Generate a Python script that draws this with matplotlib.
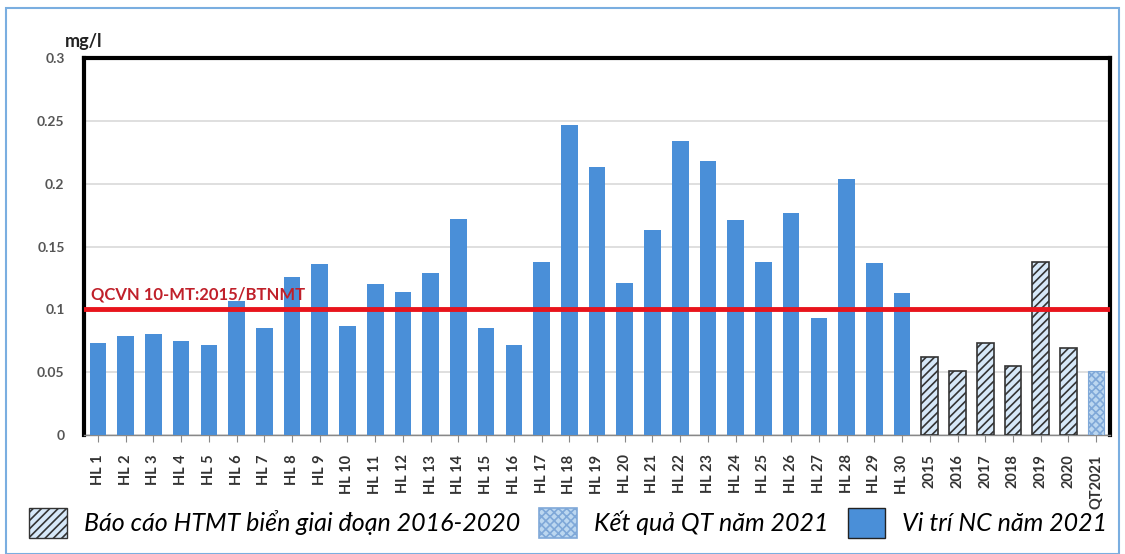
import matplotlib
matplotlib.use("Agg")
import matplotlib.pyplot as plt
from matplotlib.patches import Patch, Rectangle

plt.rcParams['font.family'] = ['Lato', 'DejaVu Sans']
plt.rcParams['hatch.linewidth'] = 1.2

# dữ liệu
vi_tri = ['HL %d' % i for i in range(1, 31)]
gia_tri_nc = [0.073, 0.079, 0.080, 0.075, 0.072, 0.107, 0.085, 0.126, 0.136, 0.087,
              0.120, 0.114, 0.129, 0.172, 0.085, 0.072, 0.138, 0.247, 0.213, 0.121,
              0.163, 0.234, 0.218, 0.171, 0.138, 0.177, 0.093, 0.204, 0.137, 0.113]
nam_bc = ['2015', '2016', '2017', '2018', '2019', '2020']
gia_tri_bc = [0.062, 0.051, 0.073, 0.055, 0.138, 0.069]
nhan_qt = ['QT2021']
gia_tri_qt = [0.051]
qcvn = 0.1

blue = '#4a8fd8'
light = '#d6e8f8'

fig = plt.figure(figsize=(11.25, 5.54), dpi=100)
ax = fig.add_axes([0.0747, 0.2148, 0.912, 0.6805])

n1 = len(vi_tri)
n2 = len(nam_bc)
x1 = list(range(n1))
x2 = list(range(n1, n1 + n2))
x3 = [n1 + n2]
w = 0.6

ax.bar(x1, gia_tri_nc, width=w, color=blue, zorder=3)
ax.bar(x2, gia_tri_bc, width=w, color=light, edgecolor='#333333', hatch='////', linewidth=1.2, zorder=3)
ax.bar(x3, gia_tri_qt, width=w, color='#bcd7f0', edgecolor='#7fa8d8', hatch='xxxx', linewidth=0.8, zorder=3)

ax.axhline(qcvn, color='#e8141c', lw=3.5, zorder=4)
ax.text(-0.25, qcvn + 0.008, 'QCVN 10-MT:2015/BTNMT', color='#c0202a', fontsize=12,
        fontweight='bold', zorder=5)

ax.set_xlim(-0.5, n1 + n2 + 0.5)
ax.set_ylim(0, 0.3)
ax.set_yticks([0, 0.05, 0.1, 0.15, 0.2, 0.25, 0.3])
ax.set_yticklabels(['0', '0.05', '0.1', '0.15', '0.2', '0.25', '0.3'])
ax.set_xticks(x1 + x2 + x3)
ax.set_xticklabels(vi_tri + nam_bc + nhan_qt, rotation=90)
ax.tick_params(axis='y', length=0, pad=14, labelsize=10, labelcolor='#555555')
ax.tick_params(axis='x', length=5, color='#888888', pad=9, labelsize=10.5, labelcolor='#333333')
for t in ax.get_xticklabels() + ax.get_yticklabels():
    t.set_fontweight('bold')
ax.grid(axis='y', color='#d9d9d9', lw=1.2, zorder=0)
for s in ['left', 'top', 'right']:
    ax.spines[s].set_linewidth(3)
    ax.spines[s].set_color('black')
ax.spines['bottom'].set_color('#888888')
ax.spines['bottom'].set_linewidth(1)

fig.text(0.058, 0.915, 'mg/l', fontsize=13, fontweight='bold', color='#222222')

handles = [Patch(facecolor=light, edgecolor='#333333', hatch='////', linewidth=1),
           Patch(facecolor='#bcd7f0', edgecolor='#7fa8d8', hatch='xxxx', linewidth=1.2),
           Patch(facecolor=blue, edgecolor='#222222', linewidth=1)]
labels = ['Báo cáo HTMT biển giai đoạn 2016-2020', 'Kết quả QT năm 2021', 'Vi trí NC năm 2021']
leg = fig.legend(handles, labels, loc='lower left', bbox_to_anchor=(0.006, -0.012), ncol=3,
                 frameon=False, handlelength=1.5, handleheight=1.5, columnspacing=0.75,
                 handletextpad=0.7, prop={'size': 18, 'style': 'italic'})

# khung viền ngoài
fig.patches.append(Rectangle((0.005, 0.0), 0.99, 0.985, transform=fig.transFigure,
                             fill=False, edgecolor='#7aaee0', lw=1.5))

fig.savefig('out.png', dpi=100)
